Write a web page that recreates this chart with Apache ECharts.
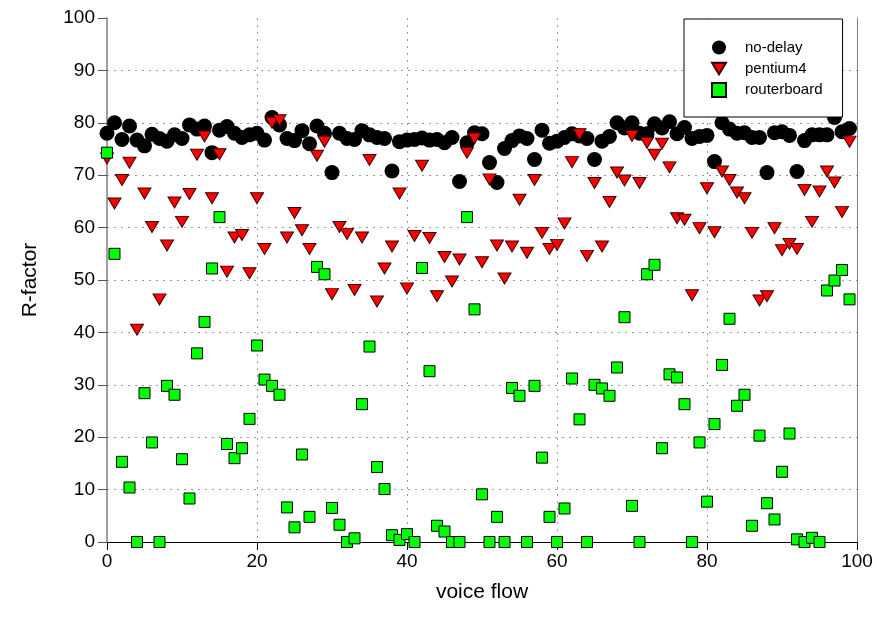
<!DOCTYPE html>
<html>
<head>
<meta charset="utf-8">
<script src="https://cdn.jsdelivr.net/npm/echarts@6/dist/echarts.min.js"></script>
<style>
  html, body { margin: 0; padding: 0; background: #fff; }
  #chart { width: 877px; height: 630px; }
</style>
</head>
<body>
<div id="chart"></div>
<script>
// R-factor per voice flow, index 0..99
var noDelay = [
  78.0, 80.0, 76.8, 79.4, 76.7, 75.6, 77.8, 77.0, 76.5, 77.7,
  77.0, 79.6, 78.8, 79.4, 74.3, 78.6, 79.3, 78.0, 77.2, 77.7,
  78.0, 76.7, 81.0, 79.6, 77.0, 76.6, 78.5, 76.0, 79.4, 78.0,
  70.5, 78.0, 77.0, 76.8, 78.5, 77.7, 77.2, 77.0, 70.8, 76.4,
  76.7, 76.8, 77.1, 76.7, 76.8, 76.2, 77.2, 68.8, 76.2, 78.1,
  77.9, 72.4, 68.6, 75.1, 76.6, 77.5, 77.0, 73.0, 78.6, 76.1,
  76.5, 77.2, 77.9, 77.5, 77.0, 73.0, 76.5, 77.4, 80.0, 79.0,
  80.0, 78.0, 77.9, 79.8, 79.0, 80.2, 77.9, 79.1, 77.0, 77.4,
  77.6, 72.6, 80.0, 78.8, 78.0, 78.1, 77.2, 77.2, 70.5, 78.1,
  78.3, 77.6, 70.7, 76.6, 77.7, 77.7, 77.7, 81.0, 78.3, 78.9
];
var pentium4 = [
  73.2, 64.6, 69.1, 72.4, 40.5, 66.5, 60.1, 46.3, 56.6, 64.8,
  61.1, 66.4, 73.9, 77.4, 65.6, 74.0, 51.6, 58.1, 58.6, 51.3,
  65.6, 55.9, 80.0, 80.5, 58.1, 62.8, 59.5, 55.9, 73.7, 76.4,
  47.3, 60.1, 58.8, 48.1, 58.1, 72.9, 45.9, 52.2, 56.4, 66.5,
  48.4, 58.4, 71.8, 58.0, 46.9, 54.4, 49.7, 53.9, 74.3, 77.0,
  53.4, 69.2, 56.6, 50.3, 56.4, 65.3, 55.2, 69.1, 59.0, 55.9,
  56.7, 60.8, 72.5, 77.8, 54.6, 68.5, 56.4, 64.9, 70.5, 69.0,
  77.5, 68.5, 76.2, 73.9, 76.0, 71.5, 61.8, 61.5, 47.1, 59.9,
  67.5, 59.1, 70.7, 69.1, 66.7, 65.6, 59.0, 46.1, 46.9, 59.9,
  55.7, 56.9, 55.9, 67.2, 61.1, 66.9, 70.7, 68.6, 63.0, 76.4
];
var routerboard = [
  74.3, 55.0, 15.3, 10.4, 0, 28.4, 19.0, 0, 29.8, 28.1,
  15.8, 8.3, 36.0, 42.0, 52.2, 62.0, 18.7, 16.0, 17.9, 23.5,
  37.5, 31.0, 29.8, 28.1, 6.6, 2.8, 16.7, 4.8, 52.5, 51.1,
  6.5, 3.3, 0, 0.7, 26.3, 37.3, 14.3, 10.1, 1.3, 0.4,
  1.5, 0, 52.3, 32.6, 3.1, 2.0, 0, 0, 62.0, 44.4,
  9.1, 0, 4.8, 0, 29.4, 27.9, 0, 29.8, 16.1, 4.8,
  0, 6.4, 31.2, 23.4, 0, 30.0, 29.3, 27.9, 33.3, 42.9,
  6.9, 0, 51.1, 52.9, 17.9, 32.0, 31.4, 26.3, 0, 19.0,
  7.7, 22.5, 33.8, 42.6, 26.0, 28.1, 3.1, 20.3, 7.4, 4.3,
  13.4, 20.7, 0.5, 0, 0.8, 0, 48.0, 49.9, 51.9, 46.3
];
var seriesNames = ['no-delay', 'pentium4', 'routerboard'];

function toPoints(arr) {
  var pts = [];
  for (var i = 0; i < arr.length; i++) {
    pts.push([i, arr[i]]);
  }
  return pts;
}

var chart = echarts.init(document.getElementById('chart'), null, { renderer: 'canvas' });

var font = 'Liberation Sans, Arial, sans-serif';
var downTri = 'path://M0,0L12,0L6,10Z';

var option = {
  animation: false,
  backgroundColor: '#fff',
  textStyle: { fontFamily: font },
  grid: { left: 107, right: 20, top: 18, bottom: 88 },
  legend: {
    orient: 'vertical',
    left: 684,
    top: 19,
    width: 130,
    padding: [21, 20, 19, 27],
    itemWidth: 14,
    itemHeight: 14,
    itemGap: 6,
    backgroundColor: '#fff',
    borderColor: '#000',
    borderWidth: 1,
    borderRadius: 0,
    textStyle: { fontFamily: font, fontSize: 15, color: '#000', padding: [0, 0, 0, 14] },
    data: seriesNames
  },
  xAxis: {
    type: 'value',
    min: 0,
    max: 100,
    interval: 20,
    name: 'voice flow',
    nameLocation: 'middle',
    nameGap: 40,
    nameTextStyle: { fontFamily: font, fontSize: 21, color: '#000' },
    axisLine: { lineStyle: { color: '#000', width: 1 } },
    axisTick: { inside: false, length: 8, lineStyle: { color: '#000' } },
    axisLabel: { fontFamily: font, fontSize: 19, color: '#000', margin: 10 },
    splitLine: {
      show: true,
      showMinLine: false,
      showMaxLine: false,
      lineStyle: { color: '#999', type: [2, 5], width: 1 }
    }
  },
  yAxis: [{
    type: 'value',
    min: 0,
    max: 100,
    interval: 10,
    name: 'R-factor',
    nameLocation: 'middle',
    nameGap: 66,
    nameTextStyle: { fontFamily: font, fontSize: 21, color: '#000' },
    axisLine: { show: true, lineStyle: { color: '#808080', width: 1.5 } },
    axisTick: { show: true, inside: false, length: 9, lineStyle: { color: '#555' } },
    axisLabel: { fontFamily: font, fontSize: 19, color: '#000', margin: 12 },
    splitLine: {
      show: true,
      showMinLine: false,
      showMaxLine: false,
      lineStyle: { color: '#999', type: [2, 5], width: 1 }
    }
  }, {
    type: 'value',
    position: 'right',
    min: 0,
    max: 100,
    axisLine: { show: true, lineStyle: { color: '#808080', width: 1 } },
    axisTick: { show: false },
    axisLabel: { show: false },
    splitLine: { show: false }
  }],
  series: [{
    name: 'no-delay',
    type: 'scatter',
    data: toPoints(noDelay),
    symbol: 'circle',
    symbolSize: 15,
    itemStyle: { color: '#000', opacity: 1 }
  }, {
    name: 'pentium4',
    type: 'scatter',
    data: toPoints(pentium4),
    symbol: downTri,
    symbolSize: [13, 11],
    itemStyle: { color: '#ff0000', borderColor: '#3a0000', borderWidth: 1, opacity: 1 }
  }, {
    name: 'routerboard',
    type: 'scatter',
    data: toPoints(routerboard),
    symbol: 'rect',
    symbolSize: 11,
    itemStyle: { color: '#00ff00', borderColor: '#000', borderWidth: 1, opacity: 1 }
  }]
};

chart.setOption(option);
</script>
</body>
</html>
